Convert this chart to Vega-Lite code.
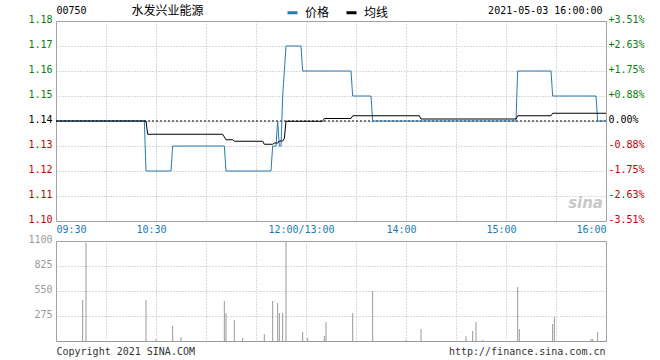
{
  "$schema": "https://vega.github.io/schema/vega-lite/v6.json",
  "background": "white",
  "padding": {"left": 27, "top": 3, "right": 5, "bottom": 5},
  "config": {
    "view": {"stroke": "#999999", "strokeWidth": 1},
    "font": "DejaVu Sans Mono",
    "axis": {
      "labelFont": "DejaVu Sans Mono", "labelFontSize": 10,
      "titleFont": "DejaVu Sans Mono", "titleFontSize": 10, "titleFontWeight": "normal",
      "domain": false, "ticks": false,
      "gridColor": "#b4b4b4", "gridDash": [1, 2], "gridWidth": 1
    }
  },
  "datasets": {
    "price": [
      {"m": 0, "p": 1.14}, {"m": 53, "p": 1.14}, {"m": 54, "p": 1.12}, {"m": 69, "p": 1.12},
      {"m": 70, "p": 1.13}, {"m": 101, "p": 1.13}, {"m": 102, "p": 1.12}, {"m": 129, "p": 1.12},
      {"m": 130, "p": 1.13}, {"m": 132, "p": 1.13}, {"m": 133, "p": 1.14}, {"m": 134, "p": 1.13},
      {"m": 135, "p": 1.13}, {"m": 136, "p": 1.15}, {"m": 137, "p": 1.16}, {"m": 138, "p": 1.17},
      {"m": 147, "p": 1.17}, {"m": 148, "p": 1.16}, {"m": 177, "p": 1.16}, {"m": 178, "p": 1.15},
      {"m": 189, "p": 1.15}, {"m": 190, "p": 1.14}, {"m": 276, "p": 1.14}, {"m": 277, "p": 1.16},
      {"m": 297, "p": 1.16}, {"m": 298, "p": 1.15}, {"m": 324, "p": 1.15}, {"m": 325, "p": 1.14},
      {"m": 330, "p": 1.14}
    ],
    "avg": [
      {"m": 0, "p": 1.14}, {"m": 54, "p": 1.14}, {"m": 55, "p": 1.1347}, {"m": 100, "p": 1.1347},
      {"m": 102, "p": 1.1325}, {"m": 106, "p": 1.1325}, {"m": 107, "p": 1.1319}, {"m": 124, "p": 1.1319},
      {"m": 125, "p": 1.1307}, {"m": 130, "p": 1.1307}, {"m": 131, "p": 1.1312}, {"m": 133, "p": 1.1312},
      {"m": 134, "p": 1.132}, {"m": 136, "p": 1.132}, {"m": 137, "p": 1.133}, {"m": 138, "p": 1.1399},
      {"m": 160, "p": 1.1399}, {"m": 161, "p": 1.141}, {"m": 177, "p": 1.141}, {"m": 178, "p": 1.1421},
      {"m": 218, "p": 1.1421}, {"m": 219, "p": 1.1408}, {"m": 276, "p": 1.1408}, {"m": 277, "p": 1.1421},
      {"m": 297, "p": 1.1421}, {"m": 298, "p": 1.1431}, {"m": 330, "p": 1.1431}
    ],
    "vol": [
      {"m": 16, "v": 450}, {"m": 18, "v": 1080}, {"m": 54, "v": 450}, {"m": 60, "v": 20},
      {"m": 70, "v": 165}, {"m": 75, "v": 44}, {"m": 101, "v": 440}, {"m": 102, "v": 308},
      {"m": 107, "v": 231}, {"m": 112, "v": 33}, {"m": 125, "v": 77}, {"m": 130, "v": 440},
      {"m": 133, "v": 418}, {"m": 134, "v": 308}, {"m": 136, "v": 308}, {"m": 138, "v": 1100},
      {"m": 148, "v": 99}, {"m": 151, "v": 33}, {"m": 161, "v": 55}, {"m": 162, "v": 209},
      {"m": 178, "v": 308}, {"m": 190, "v": 550}, {"m": 210, "v": 11}, {"m": 219, "v": 132},
      {"m": 246, "v": 55}, {"m": 250, "v": 110}, {"m": 252, "v": 209}, {"m": 256, "v": 11},
      {"m": 277, "v": 594}, {"m": 278, "v": 132}, {"m": 298, "v": 187}, {"m": 299, "v": 264},
      {"m": 321, "v": 22}, {"m": 322, "v": 22}, {"m": 325, "v": 99}, {"m": 330, "v": 11}
    ]
  },
  "spacing": 20,
  "bounds": "flush",
  "vconcat": [
    {
      "width": 550,
      "height": 200,
      "encoding": {
        "x": {
          "field": "m", "type": "quantitative",
          "scale": {"domain": [0, 330], "nice": false, "zero": false},
          "axis": {
            "values": [0, 30, 60, 90, 120, 150, 180, 210, 240, 270, 300, 330],
            "grid": true,
            "labelExpr": "datum.value == 0 ? '09:30' : datum.value == 60 ? '10:30' : datum.value == 150 ? '12:00/13:00' : datum.value == 210 ? '14:00' : datum.value == 270 ? '15:00' : datum.value == 330 ? '16:00' : ''",
            "labelColor": "#1a78b4",
            "labelPadding": 3,
            "labelFlush": true,
            "labelOffset": {"condition": {"test": "datum.value == 0 || datum.value == 330", "value": 0}, "value": -5},
            "title": "00750",
            "titleX": 0, "titleY": -211,
            "titleAlign": "left", "titleBaseline": "middle", "titleColor": "#000000"
          }
        }
      },
      "layer": [
        {
          "data": {"values": [{"m": 0}, {"m": 330}]},
          "mark": {"type": "line", "color": "#000000", "strokeDash": [2, 2], "strokeWidth": 1},
          "encoding": {
            "y": {"datum": 1.14, "type": "quantitative", "scale": {"domain": [1.1, 1.18], "nice": false, "zero": false}, "axis": null}
          }
        },
        {
          "data": {"name": "price"},
          "mark": {"type": "line", "strokeWidth": 1, "interpolate": "linear"},
          "encoding": {
            "y": {
              "field": "p", "type": "quantitative",
              "scale": {"domain": [1.1, 1.18], "nice": false, "zero": false},
              "axis": {
                "values": [1.1, 1.11, 1.12, 1.13, 1.14, 1.15, 1.16, 1.17, 1.18],
                "format": ".2f",
                "grid": true,
                "labelPadding": 4,
                "labelOffset": -2,
                "labelColor": {"condition": [{"test": "datum.value > 1.1401", "value": "#0b7d0b"}, {"test": "datum.value < 1.1399", "value": "#c00000"}], "value": "#000000"},
                "title": "水发兴业能源",
                "titleFont": "Noto Sans CJK SC", "titleFontSize": 12,
                "titleAngle": 0, "titleX": 75, "titleY": -11,
                "titleAlign": "left", "titleBaseline": "middle", "titleColor": "#000000"
              }
            },
            "color": {
              "datum": "价格", "type": "nominal",
              "scale": {"domain": ["价格", "均线"], "range": ["#2a7ab0", "#000000"]},
              "legend": {
                "orient": "none", "legendX": 230, "legendY": -15,
                "direction": "horizontal", "title": null,
                "symbolType": "stroke", "symbolStrokeWidth": 3, "symbolSize": 100,
                "labelFont": "Noto Sans CJK SC", "labelFontSize": 12, "labelColor": "#000000",
                "labelOffset": 6, "columnPadding": 10
              }
            }
          }
        },
        {
          "data": {"name": "avg"},
          "mark": {"type": "line", "strokeWidth": 1, "interpolate": "linear"},
          "encoding": {
            "y": {
              "field": "p", "type": "quantitative",
              "scale": {"domain": [1.1, 1.18], "nice": false, "zero": false},
              "axis": {
                "orient": "right",
                "values": [1.1, 1.11, 1.12, 1.13, 1.14, 1.15, 1.16, 1.17, 1.18],
                "grid": false,
                "labelPadding": 2,
                "labelOffset": -2,
                "labelExpr": "(datum.value > 1.1401 ? '+' + format((datum.value - 1.14) / 1.14 * 100, '.2f') : datum.value < 1.1399 ? '-' + format((1.14 - datum.value) / 1.14 * 100, '.2f') : '0.00') + '%'",
                "labelColor": {"condition": [{"test": "datum.value > 1.1401", "value": "#0b7d0b"}, {"test": "datum.value < 1.1399", "value": "#c00000"}], "value": "#000000"},
                "title": "2021-05-03 16:00:00",
                "titleAngle": 0, "titleX": -4, "titleY": -11,
                "titleAlign": "right", "titleBaseline": "middle", "titleColor": "#000000"
              }
            },
            "color": {"datum": "均线", "type": "nominal"}
          }
        }
      ],
      "resolve": {"axis": {"y": "independent"}}
    },
    {
      "width": 550,
      "height": 100,
      "title": {"text": "sina", "anchor": "end", "font": "DejaVu Sans", "fontSize": 15, "fontStyle": "italic", "fontWeight": "bold", "color": "#c8c8c8", "dx": -3, "dy": -19},
      "data": {"name": "vol"},
      "mark": {"type": "rule", "color": "#999999", "strokeWidth": 1, "clip": true},
      "encoding": {
        "x": {
          "field": "m", "type": "quantitative",
          "scale": {"domain": [0, 330], "nice": false, "zero": false},
          "axis": {
            "values": [0, 30, 60, 90, 120, 150, 180, 210, 240, 270, 300, 330],
            "grid": true, "labels": false,
            "title": "Copyright 2021 SINA.COM",
            "titleX": 0, "titleY": 10,
            "titleAlign": "left", "titleBaseline": "middle", "titleColor": "#333333"
          }
        },
        "y": {
          "field": "v", "type": "quantitative",
          "scale": {"domain": [0, 1100], "nice": false, "zero": true},
          "axis": {
            "values": [275, 550, 825, 1100],
            "format": "d",
            "grid": true,
            "labelColor": "#999999", "labelPadding": 4, "labelOffset": -2,
            "title": "http://finance.sina.com.cn",
            "titleAngle": 0, "titleX": 549, "titleY": 110,
            "titleAlign": "right", "titleBaseline": "middle", "titleColor": "#333333"
          }
        },
        "y2": {"datum": 0}
      }
    }
  ]
}
